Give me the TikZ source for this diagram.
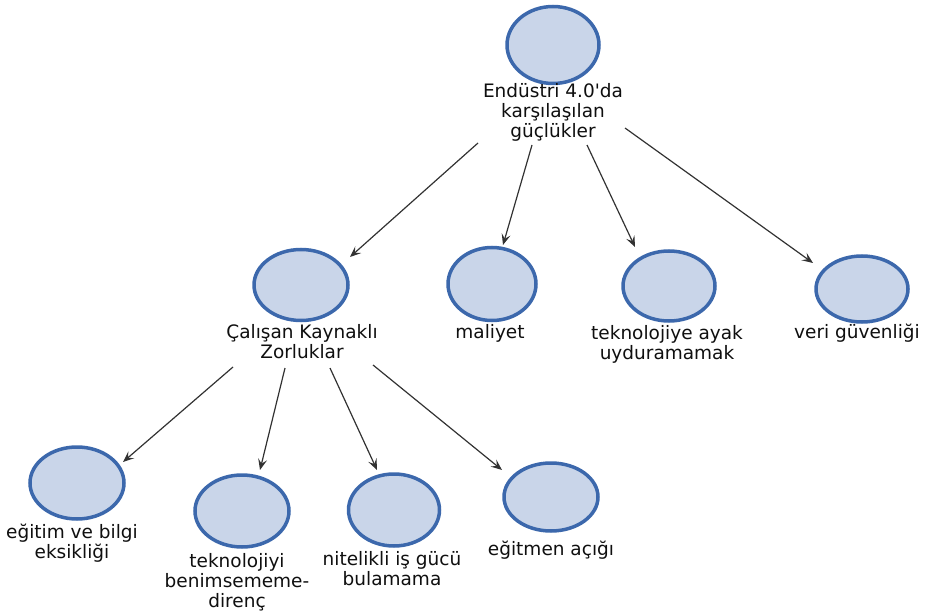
\documentclass[tikz,border=0pt]{standalone}
\usepackage{fontspec}
\setmainfont{DejaVu Sans}
\newfontfamily\dvfont{DejaVu Sans}
\usetikzlibrary{shapes.geometric,arrows.meta}
\definecolor{ringblue}{RGB}{60,104,172}
\definecolor{ringfill}{RGB}{201,213,233}
\definecolor{txt}{RGB}{15,15,15}
\definecolor{arr}{RGB}{50,50,50}
\tikzset{
  bub/.style={ellipse, draw=ringblue, fill=ringfill, line width=3.5pt, inner sep=0pt, outer sep=0pt},
  lab/.style={anchor=north, align=center, inner sep=0pt, text=txt,
    font=\dvfont\fontsize{18.5pt}{20pt}\selectfont},
  conn/.style={draw=arr, line width=1.2pt, -{Stealth[length=11pt,width=9pt,inset=4.5pt]}}
}
\begin{document}
\begin{tikzpicture}[x=1pt,y=-1pt]
\useasboundingbox (0,0) rectangle (928,612);
% bubbles
\node[bub, minimum width=92pt, minimum height=77pt] (c0) at (553,45) {};
\node[bub, minimum width=94pt, minimum height=71pt] (c1) at (301,285) {};
\node[bub, minimum width=88pt, minimum height=73pt] (c2) at (492,284) {};
\node[bub, minimum width=92pt, minimum height=70pt] (c3) at (669,286) {};
\node[bub, minimum width=92pt, minimum height=66pt] (c4) at (862,289) {};
\node[bub, minimum width=94pt, minimum height=72pt] (c5) at (77,483) {};
\node[bub, minimum width=94pt, minimum height=72pt] (c6) at (242,511) {};
\node[bub, minimum width=91pt, minimum height=72pt] (c7) at (394,510) {};
\node[bub, minimum width=94pt, minimum height=68pt] (c8) at (551,497) {};
% labels
\node[lab] (l0) at (553,83) {Endüstri 4.0'da\\karşılaşılan\\güçlükler};
\node[lab] (l1) at (302,324) {Çalışan Kaynaklı\\Zorluklar};
\node[lab] (l2) at (490,324) {maliyet};
\node[lab] (l3) at (667,325) {teknolojiye ayak\\uyduramamak};
\node[lab] (l4) at (857,324) {veri güvenliği};
\node[lab] (l5) at (72,524) {eğitim ve bilgi\\eksikliği};
\node[lab] (l6) at (237,553) {teknolojiyi\\benimsememe-\\direnç};
\node[lab] (l7) at (392,551) {nitelikli iş gücü\\bulamama};
\node[lab] (l8) at (551,541) {eğitmen açığı};
% connectors
\draw[conn] ([shift={(-75,60)}]l0.north) -- ([shift={(49,-28)}]c1.center);
\draw[conn] ([shift={(-21,62)}]l0.north) -- ([shift={(11,-39)}]c2.center);
\draw[conn] ([shift={(34,62)}]l0.north) -- ([shift={(-34,-39)}]c3.center);
\draw[conn] ([shift={(72,45)}]l0.north) -- ([shift={(-49,-26)}]c4.center);
\draw[conn] ([shift={(-69,43)}]l1.north) -- ([shift={(46,-21)}]c5.center);
\draw[conn] ([shift={(-17,44)}]l1.north) -- ([shift={(18,-41)}]c6.center);
\draw[conn] ([shift={(28,44)}]l1.north) -- ([shift={(-17,-40)}]c7.center);
\draw[conn] ([shift={(71,41)}]l1.north) -- ([shift={(-49,-27)}]c8.center);
\end{tikzpicture}
\end{document}
